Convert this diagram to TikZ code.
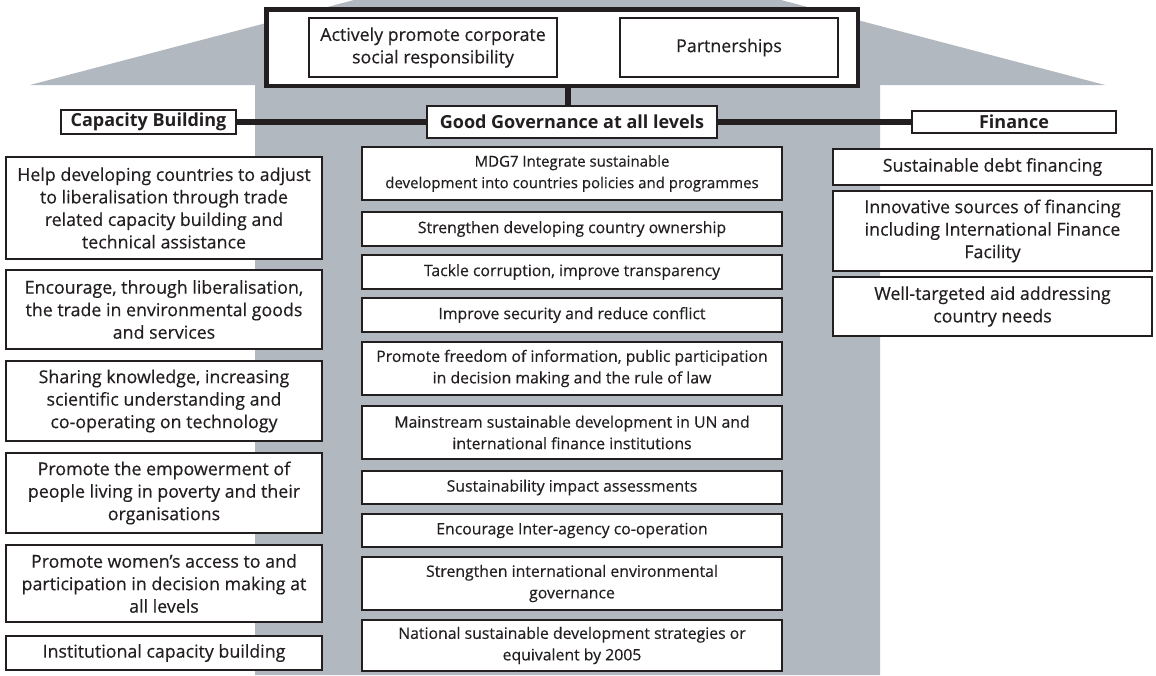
\documentclass[tikz,border=0pt]{standalone}
\usepackage{fontspec}
\setmainfont{Open Sans}[UprightFeatures={FakeBold=0.35}]
\definecolor{roofgray}{RGB}{178,184,191}
\definecolor{ink}{RGB}{35,31,32}
\newcommand\gbox[7][]{%
  \pgfmathsetmacro\bw{#5-#3}\pgfmathsetmacro\bh{#6-#4}%
  \pgfmathsetmacro\cx{(#3+#5)/2}\pgfmathsetmacro\cy{(#4+#6)/2}%
  \node[box,#1,minimum width=\bw pt,minimum height=\bh pt] (#2) at (\cx,\cy) {#7};}
\tikzset{
  box/.style={draw=ink, line width=1.3pt, fill=white, align=center, inner sep=0pt, text=ink},
  sidetxt/.style={font=\fontsize{17.8}{22.5}\selectfont},
  midtxt/.style={font=\fontsize{15.8}{21.5}\selectfont},
  mdgtxt/.style={font=\fontsize{15}{21.5}\selectfont},
  headtxt/.style={font=\fontsize{18}{20}\selectfont\bfseries},
  topbox/.style={line width=4.5pt},
  conn/.style={draw=ink, line width=6pt}
}
\begin{document}
\begin{tikzpicture}[x=1pt,y=-1pt]
\useasboundingbox (0,0) rectangle (1156,675);
\clip (0,0) rectangle (1156,675);
\fill[white] (0,0) rectangle (1156,675);
% house-shaped background
\fill[roofgray] (30,85) -- (567.5,-56) -- (1105,85) -- (880,85) -- (880,675)
  -- (255,675) -- (255,85) -- cycle;
% top frame
\gbox[topbox]{top}{266.25}{9.25}{857.75}{85.75}{}
\gbox[sidetxt]{csr}{309}{18}{557}{77}{Actively promote corporate\\social responsibility}
\gbox[sidetxt]{part}{620}{18}{838}{77}{Partnerships}
% headers
\gbox[headtxt]{cap}{61}{110}{236}{134}{Capacity Building}
\gbox[headtxt]{gg}{427}{106}{717}{138}{Good Governance at all levels}
\gbox[headtxt]{fin}{912}{111}{1116}{133}{Finance}
\coordinate (tj) at (568,85.75);
\draw[conn] (tj) -- (tj |- gg.north);
\draw[conn] (cap.east) -- (gg.west);
\draw[conn] (gg.east) -- (fin.west);
% left column
\gbox[sidetxt]{l1}{6}{157}{322}{259}{Help developing countries to adjust\\to liberalisation through trade\\related capacity building and\\technical assistance}
\gbox[sidetxt]{l2}{6}{270}{322}{349}{Encourage, through liberalisation,\\the trade in environmental goods\\and services}
\gbox[sidetxt]{l3}{6}{361}{322}{441}{Sharing knowledge, increasing\\scientific understanding and\\co-operating on technology}
\gbox[sidetxt]{l4}{6}{453}{322}{533}{Promote the empowerment of\\people living in poverty and their\\organisations}
\gbox[sidetxt]{l5}{6}{545}{322}{622}{Promote women’s access to and\\participation in decision making at\\all levels}
\gbox[sidetxt]{l6}{6}{636}{322}{670}{Institutional capacity building}
% middle column
\gbox[mdgtxt]{m1}{362}{147}{782}{200}{MDG7 Integrate sustainable\\development into countries policies and programmes}
\gbox[midtxt]{m2}{362}{212}{782}{246}{Strengthen developing country ownership}
\gbox[midtxt]{m3}{362}{255}{782}{289}{Tackle corruption, improve transparency}
\gbox[midtxt]{m4}{362}{298}{782}{332}{Improve security and reduce conflict}
\gbox[midtxt]{m5}{362}{342}{782}{395}{Promote freedom of information, public participation\\in decision making and the rule of law}
\gbox[midtxt]{m6}{362}{406}{782}{459}{Mainstream sustainable development in UN and\\international finance institutions}
\gbox[midtxt]{m7}{362}{471}{782}{504}{Sustainability impact assessments}
\gbox[midtxt]{m8}{362}{514}{782}{547}{Encourage Inter-agency co-operation}
\gbox[midtxt]{m9}{362}{557}{782}{610}{Strengthen international environmental\\governance}
\gbox[midtxt]{m10}{362}{620}{782}{671}{National sustainable development strategies or\\equivalent by 2005}
% right column
\gbox[sidetxt]{r1}{833}{149}{1152}{185}{Sustainable debt financing}
\gbox[sidetxt]{r2}{833}{191}{1152}{271}{Innovative sources of financing\\including International Finance\\Facility}
\gbox[sidetxt]{r3}{833}{277}{1152}{336}{Well-targeted aid addressing\\country needs}
\end{tikzpicture}
\end{document}
